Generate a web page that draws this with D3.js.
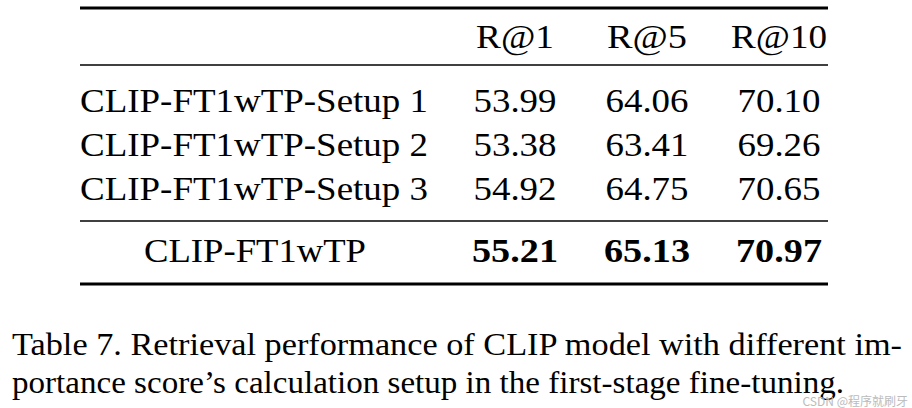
<!DOCTYPE html>
<html><head><meta charset="utf-8">
<script src="https://cdn.jsdelivr.net/npm/d3@7"></script>
<style>body{margin:0;background:#fff}</style></head>
<body><svg id="c" width="912" height="408"></svg>
<script>
const columns = ["R@1","R@5","R@10"];
const rowLabels = ["CLIP-FT1wTP-Setup 1","CLIP-FT1wTP-Setup 2","CLIP-FT1wTP-Setup 3","CLIP-FT1wTP"];
const r1 = ["53.99","53.38","54.92","55.21"];
const r5 = ["64.06","63.41","64.75","65.13"];
const r10 = ["70.10","69.26","70.65","70.97"];
const captionLines = ["Table 7. Retrieval performance of CLIP model with different im-",
 "portance score’s calculation setup in the first-stage fine-tuning."];

const svg = d3.select("#c");
const F = "'Liberation Serif','Times New Roman',Times,serif";
const x = d3.scalePoint().domain(columns).range([515,779]);
const y = d3.scaleOrdinal().domain(["head",0,1,2,3]).range([48,112,156,200,262]);
const rule = (yy,w)=>svg.append("line").attr("x1",80).attr("x2",828).attr("y1",yy).attr("y2",yy).attr("stroke","#000").attr("stroke-width",w);
rule(8,3); rule(65,1.6); rule(221,1.6); rule(284,3);

const hw = {"R@1":78,"R@5":80,"R@10":96};
svg.selectAll(".h").data(columns).join("text").attr("x",d=>x(d)).attr("y",y("head"))
 .attr("text-anchor","middle").attr("font-family",F).attr("font-size",34)
 .attr("textLength",d=>hw[d]).attr("lengthAdjust","spacingAndGlyphs").text(d=>d);

rowLabels.forEach((lab,i)=>{
  const last = i===3;
  svg.append("text").attr("x",last?255:80).attr("y",y(i)).attr("text-anchor",last?"middle":"start")
    .attr("font-family",F).attr("font-size",34).attr("textLength",last?222:348)
    .attr("lengthAdjust","spacingAndGlyphs").text(lab);
  [r1[i],r5[i],r10[i]].forEach((v,j)=>{
    svg.append("text").attr("x",x(columns[j])).attr("y",y(i)).attr("text-anchor","middle")
      .attr("font-family",F).attr("font-size",34).attr("font-weight",last?"bold":"normal")
      .attr("textLength",last?86:83).attr("lengthAdjust","spacingAndGlyphs").text(v);
  });
});

svg.selectAll(".cap").data(captionLines).join("text").attr("x",12).attr("y",(d,i)=>355+i*38)
 .attr("font-family",F).attr("font-size",31).attr("textLength",(d,i)=>i===0?890:832)
 .attr("lengthAdjust","spacingAndGlyphs").text(d=>d);
svg.append("text").attr("x",908).attr("y",406).attr("text-anchor","end").attr("font-family","'Noto Sans CJK SC',sans-serif")
 .attr("font-size",12).attr("fill","#bbb").text("CSDN @程序就刷牙");
</script></body></html>
